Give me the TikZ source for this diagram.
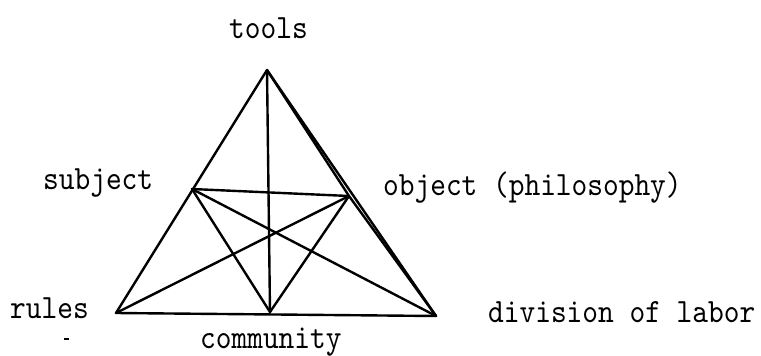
\documentclass[tikz,border=0pt]{standalone}
\usepackage{fontspec}
\newfontfamily\labfont{lmmono10-regular.otf}[FakeStretch=0.88]
\begin{document}
\begin{tikzpicture}[x=1pt,y=-1pt,
  edge/.style={line width=2.4pt,line join=round,line cap=round},
  lab/.style={font=\labfont\fontsize{34}{34}\selectfont,inner sep=0pt,anchor=base west}]
\useasboundingbox (0,0) rectangle (761,356);
\coordinate (T) at (267,70);
\coordinate (S) at (192,189);
\coordinate (O) at (349,196);
\coordinate (R) at (116,313);
\coordinate (C) at (270,312);
\coordinate (D) at (436,316);
\draw[edge] (T) -- (R) -- (D) -- cycle;
\draw[edge] (T) -- (O) -- (D);
\draw[edge] (T) -- (C);
\draw[edge] (S) -- (O);
\draw[edge] (S) -- (C);
\draw[edge] (S) -- (D);
\draw[edge] (O) -- (C);
\draw[edge] (O) -- (R);
\coordinate (m1) at (64,339);
\coordinate (m2) at (69,339);
\draw[line width=1.5pt] (m1) -- (m2);
\node[lab] (tools) at (229,38) {tools};
\node[lab] (subject) at (43,189) {subject};
\node[lab] (object) at (383,195) {object (philosophy)};
\node[lab] (rules) at (10,318) {rules};
\node[lab] (community) at (200,348) {community};
\node[lab] (division) at (488,322) {division of labor};
\end{tikzpicture}
\end{document}
